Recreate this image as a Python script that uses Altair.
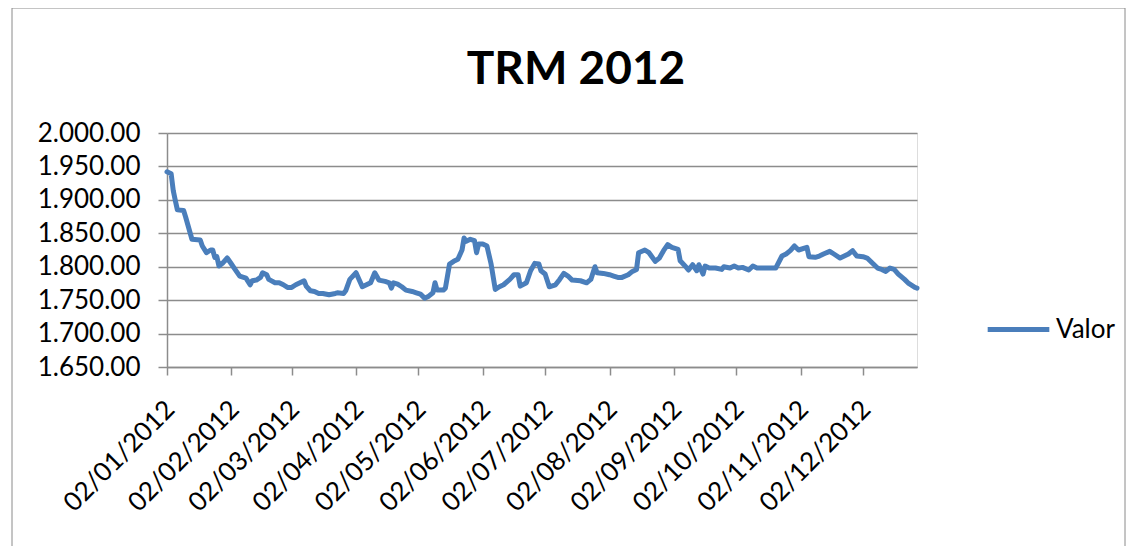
import altair as alt
import pandas as pd

# --- data ---
fechas = [
    "2012-01-02", "2012-01-04", "2012-01-05", "2012-01-06", "2012-01-07", "2012-01-10",
    "2012-01-11", "2012-01-14", "2012-01-18", "2012-01-19", "2012-01-21", "2012-01-23",
    "2012-01-24", "2012-01-25", "2012-01-26", "2012-01-27", "2012-01-29", "2012-01-31",
    "2012-02-02", "2012-02-04", "2012-02-06", "2012-02-09", "2012-02-11", "2012-02-12",
    "2012-02-14", "2012-02-16", "2012-02-17", "2012-02-19", "2012-02-20", "2012-02-23",
    "2012-02-25", "2012-02-27", "2012-02-29", "2012-03-02", "2012-03-04", "2012-03-06",
    "2012-03-08", "2012-03-09", "2012-03-11", "2012-03-13", "2012-03-15", "2012-03-17",
    "2012-03-20", "2012-03-23", "2012-03-24", "2012-03-27", "2012-03-28", "2012-03-30",
    "2012-04-02", "2012-04-03", "2012-04-05", "2012-04-07", "2012-04-09", "2012-04-11",
    "2012-04-13", "2012-04-16", "2012-04-18", "2012-04-19", "2012-04-20", "2012-04-22",
    "2012-04-24", "2012-04-26", "2012-04-29", "2012-05-01", "2012-05-03", "2012-05-05",
    "2012-05-07", "2012-05-09", "2012-05-10", "2012-05-11", "2012-05-14", "2012-05-15",
    "2012-05-17", "2012-05-19", "2012-05-21", "2012-05-23", "2012-05-24", "2012-05-25",
    "2012-05-27", "2012-05-29", "2012-05-30", "2012-05-31", "2012-06-02", "2012-06-04",
    "2012-06-06", "2012-06-08", "2012-06-10", "2012-06-12", "2012-06-15", "2012-06-17",
    "2012-06-19", "2012-06-20", "2012-06-23", "2012-06-25", "2012-06-27", "2012-06-29",
    "2012-06-30", "2012-07-02", "2012-07-04", "2012-07-07", "2012-07-09", "2012-07-11",
    "2012-07-13", "2012-07-15", "2012-07-19", "2012-07-22", "2012-07-24", "2012-07-26",
    "2012-07-27", "2012-07-30", "2012-08-02", "2012-08-04", "2012-08-06", "2012-08-08",
    "2012-08-11", "2012-08-13", "2012-08-15", "2012-08-16", "2012-08-19", "2012-08-21",
    "2012-08-24", "2012-08-26", "2012-08-28", "2012-08-30", "2012-09-01", "2012-09-04",
    "2012-09-05", "2012-09-08", "2012-09-09", "2012-09-11", "2012-09-13", "2012-09-14",
    "2012-09-16", "2012-09-17", "2012-09-19", "2012-09-22", "2012-09-25", "2012-09-26",
    "2012-09-29", "2012-10-01", "2012-10-03", "2012-10-05", "2012-10-08", "2012-10-10",
    "2012-10-12", "2012-10-18", "2012-10-21", "2012-10-24", "2012-10-26", "2012-10-28",
    "2012-10-30", "2012-11-01", "2012-11-05", "2012-11-06", "2012-11-09", "2012-11-11",
    "2012-11-13", "2012-11-16", "2012-11-18", "2012-11-21", "2012-11-23", "2012-11-25",
    "2012-11-27", "2012-11-29", "2012-12-02", "2012-12-04", "2012-12-07", "2012-12-09",
    "2012-12-11", "2012-12-13", "2012-12-15", "2012-12-17", "2012-12-19", "2012-12-22",
    "2012-12-24", "2012-12-27", "2012-12-28",
]
valores = [
    1942, 1939, 1914, 1899, 1885, 1884,
    1874, 1841, 1840, 1831, 1821, 1825,
    1825, 1814, 1815, 1801, 1806, 1813,
    1804, 1795, 1786, 1783, 1773, 1779,
    1780, 1784, 1791, 1788, 1781, 1776,
    1776, 1773, 1769, 1769, 1773, 1776,
    1779, 1771, 1764, 1763, 1760, 1760,
    1758, 1760, 1761, 1760, 1764, 1781,
    1791, 1784, 1770, 1773, 1776, 1791,
    1780, 1778, 1776, 1768, 1776, 1774,
    1770, 1765, 1763, 1761, 1759, 1753,
    1756, 1761, 1776, 1765, 1765, 1768,
    1804, 1808, 1811, 1825, 1843, 1838,
    1841, 1839, 1821, 1834, 1834, 1831,
    1804, 1766, 1770, 1773, 1781, 1788,
    1788, 1771, 1776, 1794, 1805, 1804,
    1794, 1789, 1770, 1773, 1781, 1790,
    1786, 1780, 1779, 1776, 1781, 1800,
    1791, 1790, 1788, 1786, 1784, 1784,
    1788, 1793, 1796, 1821, 1825, 1821,
    1808, 1813, 1824, 1833, 1829, 1826,
    1809, 1799, 1795, 1803, 1794, 1803,
    1789, 1801, 1798, 1798, 1796, 1800,
    1798, 1801, 1798, 1799, 1795, 1801,
    1798, 1798, 1798, 1816, 1819, 1824,
    1831, 1825, 1829, 1815, 1814, 1816,
    1819, 1823, 1819, 1813, 1816, 1819,
    1824, 1816, 1815, 1813, 1804, 1798,
    1796, 1793, 1798, 1796, 1789, 1781,
    1775, 1769, 1768,
]
serie = ["Valor"] * len(fechas)

# axis ticks
x_ticks = [(2012, m, 2) for m in range(1, 13)]
y_ticks = [1650, 1700, 1750, 1800, 1850, 1900, 1950, 2000]
titulo = ["TRM 2012"]

df = pd.DataFrame({"Fecha": fechas, "Valor": valores, "Serie": serie})
df_titulo = pd.DataFrame({"t": titulo})

FONT = "Lato"
GRID = "#8c8c8c"

frame = alt.Chart(df_titulo).mark_rect(
    fill=None, stroke="#8a8a8a", strokeWidth=1
).encode(
    x=alt.value(-155), x2=alt.value(958),
    y=alt.value(-125), y2=alt.value(420),
)

title = alt.Chart(df_titulo).mark_text(
    font=FONT, fontSize=46, fontWeight="bold", color="#000000",
    align="center", baseline="alphabetic",
).encode(
    text="t:N",
    x=alt.value(409),
    y=alt.value(-49),
)

line = alt.Chart(df).mark_line(
    strokeWidth=5, strokeJoin="round", strokeCap="round"
).encode(
    x=alt.X(
        "Fecha:T",
        title=None,
        scale=alt.Scale(domain=[alt.DateTime(year=2012, month=1, date=2),
                                alt.DateTime(year=2012, month=12, date=28)]),
        axis=alt.Axis(
            values=[alt.DateTime(year=y, month=m, date=d) for (y, m, d) in x_ticks],
            format="%d/%m/%Y",
            labelAngle=315,
            labelAlign="right",
            labelBaseline="middle",
            labelPadding=30,
            labelOffset=3,
            labelFont=FONT,
            labelFontSize=26,
            labelColor="#000000",
            labelOverlap=False,
            labelFlush=False,
            tickSize=8,
            tickColor=GRID,
            domainColor=GRID,
            domainWidth=1.5,
            tickWidth=1.5,
            grid=False,
        ),
    ),
    y=alt.Y(
        "Valor:Q",
        title=None,
        scale=alt.Scale(domain=[1650, 2000], nice=False, zero=False),
        axis=alt.Axis(
            values=y_ticks,
            labelExpr="replace(format(datum.value, ',.2f'), ',', '.')",
            labelFont=FONT,
            labelFontSize=26,
            labelColor="#000000",
            labelPadding=18,
            tickSize=9,
            tickColor=GRID,
            tickWidth=1.5,
            domainColor=GRID,
            domainWidth=1.5,
            gridColor=GRID,
            gridWidth=1.5,
            labelOverlap=False,
        ),
    ),
    color=alt.Color(
        "Serie:N",
        scale=alt.Scale(range=["#4a7ebb"]),
        legend=alt.Legend(
            title=None,
            orient="none",
            legendX=818,
            legendY=163,
            symbolType="stroke",
            symbolSize=3800,
            symbolStrokeWidth=5,
            labelFont=FONT,
            labelFontSize=26,
            labelColor="#000000",
            labelOffset=4,
            padding=0,
        ),
    ),
)

chart = alt.layer(frame, title, line).properties(
    width=750,
    height=234,
    autosize=alt.AutoSizeParams(type="none"),
    padding={"left": 159, "top": 125, "right": 209, "bottom": 179},
).configure_view(stroke=None).configure(background="white")

chart.save("out.html", embed_options={"renderer": "svg", "actions": False})
